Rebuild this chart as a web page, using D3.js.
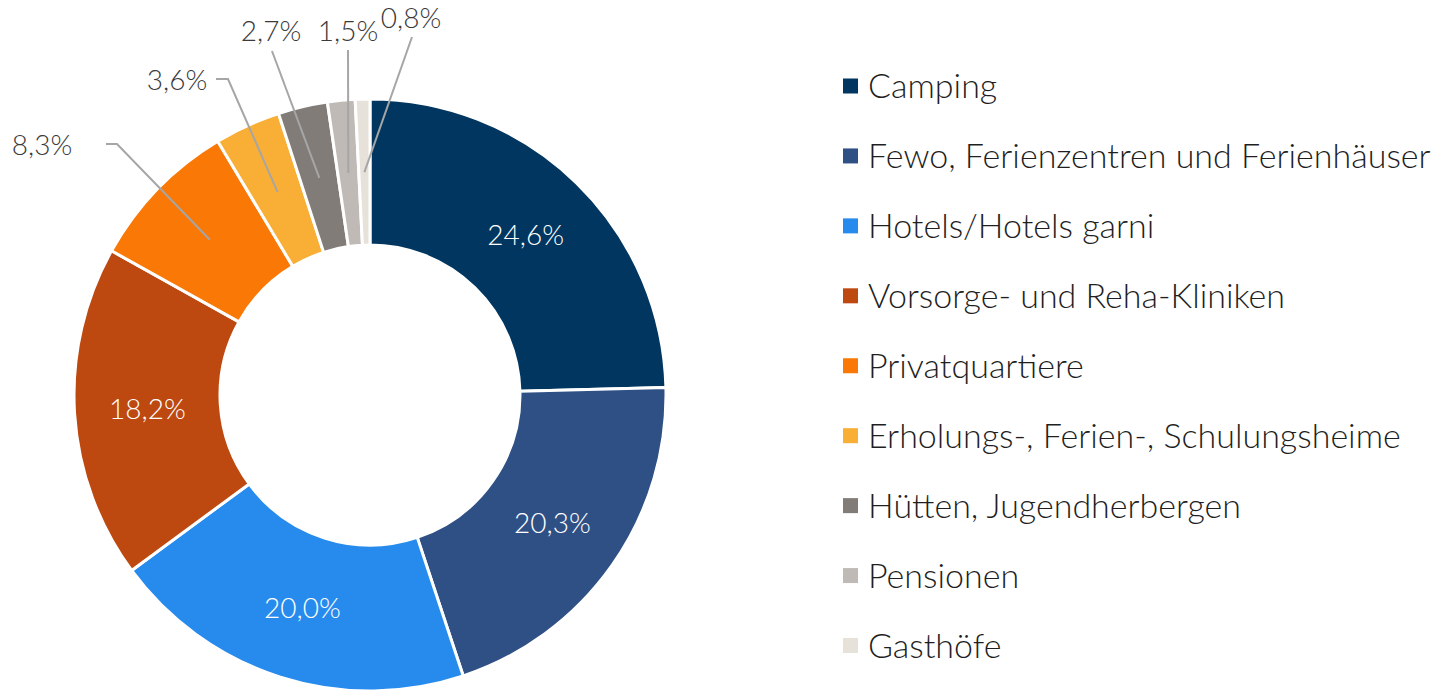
<!DOCTYPE html>
<html>
<head>
<meta charset="utf-8">
<script src="https://cdn.jsdelivr.net/npm/d3@7"></script>
<style>
  body { margin: 0; background: #fff; }
  text { font-family: Lato, "Open Sans", sans-serif; font-weight: 300; }
</style>
</head>
<body>
<div id="chart"></div>
<script>
var width = 1447, height = 690;

// data
var categories = ["Camping", "Fewo, Ferienzentren und Ferienhäuser", "Hotels/Hotels garni",
  "Vorsorge- und Reha-Kliniken", "Privatquartiere", "Erholungs-, Ferien-, Schulungsheime",
  "Hütten, Jugendherbergen", "Pensionen", "Gasthöfe"];
var shares = [24.6, 20.3, 20.0, 18.2, 8.3, 3.6, 2.7, 1.5, 0.8];
var colors = ["#003660", "#2f5085", "#268bec", "#bd4810", "#fa7806", "#f9ae35", "#827c78", "#bfbab5", "#e6e1d9"];

// manual label placement for the small slices (offsets from centre: text, knee, tail)
var outerLabels = {
  4: { text: [-328, -250], knee: [-253, -251], tail: [-264, -251] },
  5: { text: [-193, -315], knee: [-142, -316], tail: [-154, -316] },
  6: { text: [-99, -364], knee: [-98, -344] },
  7: { text: [-22, -364], knee: [-22, -345] },
  8: { text: [41, -377], knee: [42, -358] }
};

var cx = 370, cy = 395, outerR = 296, innerR = 150;
var fmt = function (v) { return d3.format(".1f")(v).replace(".", ","); };

var svg = d3.select("#chart").append("svg").attr("width", width).attr("height", height);
var g = svg.append("g").attr("transform", "translate(" + cx + "," + cy + ")");

var pie = d3.pie().sort(null).value(function (d) { return d; });
var arcs = pie(shares);
var arc = d3.arc().innerRadius(innerR).outerRadius(outerR);

g.selectAll("path.slice").data(arcs).enter().append("path")
  .attr("class", "slice")
  .attr("d", arc)
  .attr("fill", function (d, i) { return colors[i]; })
  .attr("stroke", "#fff").attr("stroke-width", 3).attr("stroke-linejoin", "round");

// inner labels
g.selectAll("text.inner").data(arcs.filter(function (d) { return !outerLabels[d.index]; })).enter().append("text")
  .attr("class", "inner")
  .attr("x", function (d) { return arc.centroid(d)[0]; })
  .attr("y", function (d) { return arc.centroid(d)[1]; })
  .attr("dy", "0.36em")
  .attr("text-anchor", "middle")
  .attr("font-size", 28)
  .attr("fill", "#fff")
  .text(function (d) { return fmt(d.data) + "%"; });

// outer labels with leader lines
var outer = arcs.filter(function (d) { return outerLabels[d.index]; });
var line = d3.line();
g.selectAll("path.leader").data(outer).enter().append("path")
  .attr("class", "leader")
  .attr("d", function (d) {
    var o = outerLabels[d.index];
    var pts = [arc.centroid(d), o.knee];
    if (o.tail) pts.push(o.tail);
    return line(pts);
  })
  .attr("fill", "none").attr("stroke", "#a6a6a6").attr("stroke-width", 2);

g.selectAll("text.outer").data(outer).enter().append("text")
  .attr("class", "outer")
  .attr("x", function (d) { return outerLabels[d.index].text[0]; })
  .attr("y", function (d) { return outerLabels[d.index].text[1]; })
  .attr("dy", "0.36em")
  .attr("text-anchor", "middle")
  .attr("font-size", 28)
  .attr("fill", "#3a3a3a")
  .text(function (d) { return fmt(d.data) + "%"; });

// legend
var ly = d3.scalePoint().domain(categories).range([86, 645.5]);
var legend = svg.append("g").selectAll("g").data(categories).enter().append("g")
  .attr("transform", function (d) { return "translate(843," + ly(d) + ")"; });
legend.append("rect").attr("x", 0).attr("y", -7.5).attr("width", 15).attr("height", 15)
  .attr("fill", function (d, i) { return colors[i]; });
legend.append("text").attr("x", 25).attr("dy", "0.36em")
  .attr("font-size", 34).attr("fill", "#1f1f1f")
  .text(function (d) { return d; });
</script>
</body>
</html>
